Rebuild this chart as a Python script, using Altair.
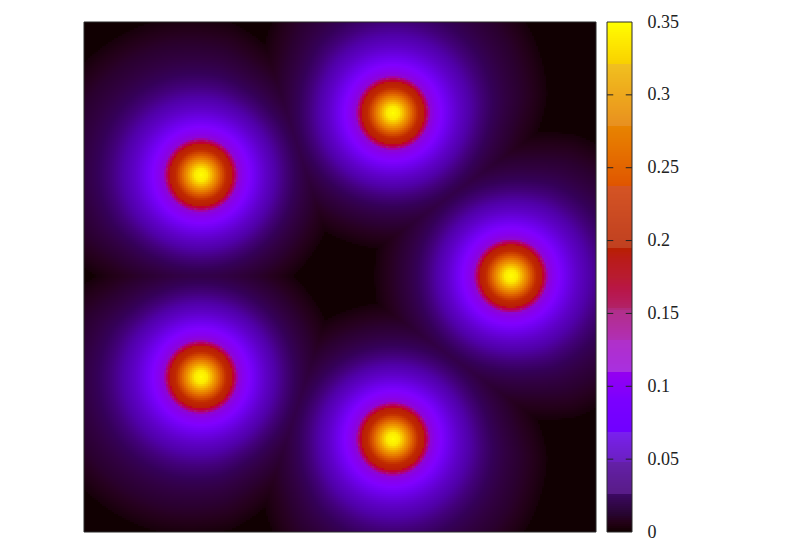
import altair as alt
import numpy as np
import pandas as pd

alt.data_transformers.disable_max_rows()

# Blob centres, in plot-area pixels
centre_x = [117, 309, 427, 309, 117]
centre_y = [153, 91, 254, 417, 355]
# Radial profile (distance, value)
profile_r = [0, 6, 12, 18, 24, 31, 34, 37, 42, 48, 54, 64, 74, 84, 94, 104, 114, 124, 134, 137, 137.5]
profile_v = [0.35, 0.34, 0.305, 0.262, 0.215, 0.172, 0.158, 0.14, 0.118, 0.105, 0.09, 0.071, 0.055, 0.044, 0.035, 0.027, 0.02, 0.014, 0.008, 0.006, 0]
# Outer reach of a blob by bearing from the outward direction
reach_angle = [0, 40, 65, 80, 100, 180]
reach_r = [162, 160, 155, 145, 138, 136]
# Palette of the image
image_v = [0, 0.004, 0.008, 0.02, 0.035, 0.055, 0.09, 0.105, 0.14, 0.155, 0.172, 0.205, 0.25, 0.30, 0.33, 0.35]
image_c = ["#000000", "#150008", "#1a000e", "#2a0030", "#340058", "#5000a8", "#7000f0", "#8000ff", "#8c08d0", "#a81470", "#b81c08", "#c02800",
           "#dc5c00", "#f0a000", "#f8d800", "#ffff00"]
# Palette of the colour bar
stop_v = [0, 0.0015, 0.012, 0.0265, 0.0266, 0.048, 0.0481, 0.069, 0.0691, 0.09, 0.11, 0.1101, 0.132, 0.1321, 0.153, 0.1531,
          0.175, 0.195, 0.1951, 0.237, 0.2371, 0.279, 0.2791, 0.321, 0.3211, 0.35]
stop_c = ["#000000", "#140005", "#260530", "#3c0a66", "#581c88", "#6420a8", "#6a20c0", "#7a20f0", "#7000ff", "#7a00ff", "#9400f0", "#a830e0",
          "#b030c8", "#b030b4", "#b03088", "#b02468", "#b81c30", "#b82000", "#c04020", "#d45424", "#e05400", "#e88400", "#e89020", "#f0c020", "#f8d000", "#ffff00"]
tick_values = [0, 0.05, 0.1, 0.15, 0.2, 0.25, 0.3, 0.35]

W, H = 512, 510
CW, CH = 2, 2
xs = np.arange(0, W, CW)
ys = np.arange(0, H, CH)
gx, gy = np.meshgrid(xs + CW / 2, ys + CH / 2)
mx, my = np.mean(centre_x), np.mean(centre_y)
field = np.zeros_like(gx, dtype=float)
for cx, cy in zip(centre_x, centre_y):
    dx, dy = gx - cx, gy - cy
    r = np.hypot(dx, dy)
    ox, oy = cx - mx, cy - my
    cosang = (dx * ox + dy * oy) / (np.maximum(r, 1e-6) * np.hypot(ox, oy))
    bearing = np.degrees(np.arccos(np.clip(cosang, -1, 1)))
    reach = np.interp(bearing, reach_angle, reach_r)
    w = np.clip((r - 50) / 87, 0, 1)
    u = r * (1 + w * (137 / reach - 1))
    field = np.maximum(field, np.interp(u, profile_r, profile_v, right=0))

cells = pd.DataFrame({"x": (gx.ravel() - CW / 2).astype(int),
                      "y": (gy.ravel() - CH / 2).astype(int),
                      "v": np.round(field.ravel(), 4)})

font = "Liberation Serif"

heat = (
    alt.Chart(cells)
    .transform_calculate(x2=f"datum.x+{CW}", y2=f"datum.y+{CH}")
    .mark_rect(strokeWidth=0)
    .encode(
        x=alt.X("x:Q", axis=None, scale=alt.Scale(domain=[0, W], nice=False, zero=False)),
        x2="x2:Q",
        y=alt.Y("y:Q", axis=None, scale=alt.Scale(domain=[H, 0], nice=False, zero=False)),
        y2="y2:Q",
        color=alt.Color("v:Q", legend=None, scale=alt.Scale(domain=image_v, range=image_c, clamp=True)),
    )
)
frame = alt.Chart(pd.DataFrame({"a": [0]})).mark_rect(filled=False, stroke="#2a2a2a", strokeWidth=1).encode(
    x=alt.value(0), x2=alt.value(W), y=alt.value(0), y2=alt.value(H))
main = alt.layer(heat, frame).properties(width=W, height=H)

bar_lo = np.arange(255) * 0.35 / 255
bar = pd.DataFrame({"lo": bar_lo, "hi": bar_lo + 0.35 / 255, "w": bar_lo + 0.35 / 510})
bar_rect = alt.Chart(bar).mark_rect(strokeWidth=0).encode(
    y=alt.Y("lo:Q", scale=alt.Scale(domain=[0, 0.35], nice=False),
            axis=alt.Axis(orient="right", values=tick_values, format=".2~f", title=None, ticks=False, domain=False,
                          grid=False, labelPadding=15, labelFontSize=18, labelFont=font, labelColor="#222222",
                          labelOverlap=False)),
    y2="hi:Q",
    color=alt.Color("w:Q", legend=None, scale=alt.Scale(domain=stop_v, range=stop_c, clamp=True)),
)
inner = tick_values[1:-1]
ticks = pd.DataFrame({"t": inner + inner, "a": [0.0] * len(inner) + [0.75] * len(inner),
                      "b": [0.25] * len(inner) + [1.0] * len(inner)})
bar_ticks = alt.Chart(ticks).mark_rule(color="#222222", strokeWidth=1).encode(
    y=alt.Y("t:Q"),
    x=alt.X("a:Q", axis=None, scale=alt.Scale(domain=[0, 1], nice=False)),
    x2="b:Q",
)
bar_frame = alt.Chart(pd.DataFrame({"a": [0]})).mark_rect(filled=False, stroke="#2a2a2a", strokeWidth=1).encode(
    x=alt.value(0), x2=alt.value(25), y=alt.value(0), y2=alt.value(H))
colorbar = alt.layer(bar_rect, bar_ticks, bar_frame).properties(width=25, height=H)

chart = (
    alt.hconcat(main, colorbar, spacing=9)
    .resolve_scale(color="independent")
    .properties(padding={"left": 75, "top": 5, "right": 10, "bottom": 5}, background="white")
    .configure_view(stroke=None)
)
chart.save("out.html", embed_options={"renderer": "svg", "actions": False})
